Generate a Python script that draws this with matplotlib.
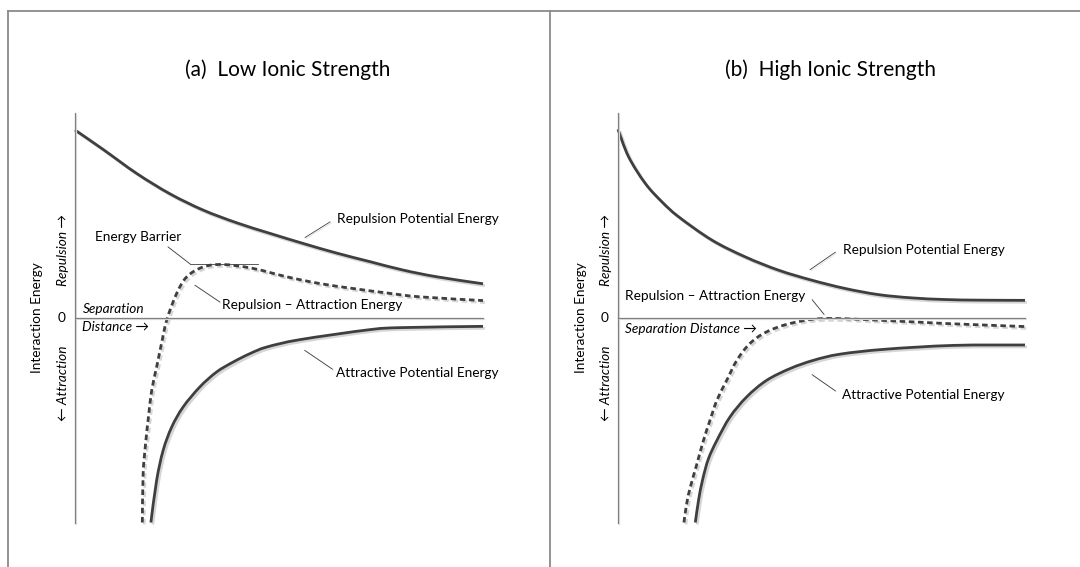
import matplotlib.pyplot as plt
import matplotlib.patheffects as pe
from matplotlib.lines import Line2D
from matplotlib.path import Path
from matplotlib.patches import PathPatch

# ---- data (x: separation distance 0..10, y: energy -10..10) ----
titles = ["(a)  Low Ionic Strength", "(b)  High Ionic Strength"]

# panel (a) low ionic strength
rep_a_x = [0.00, 0.69, 1.51, 2.33, 3.14, 3.96, 4.78, 5.59, 6.41, 7.23, 8.04, 8.87, 10.0]
rep_a_y = [9.17, 8.22, 7.05, 6.05, 5.26, 4.64, 4.12, 3.63, 3.16, 2.74, 2.33, 2.00, 1.66]

net_a_x = [1.65, 1.67, 1.73, 1.80, 1.88, 2.00, 2.12, 2.25, 2.49, 2.74, 3.14, 3.63,
           4.36, 5.19, 6.00, 6.81, 7.64, 8.46, 10.0]
net_a_y = [-10.0, -7.62, -6.15, -4.85, -3.55, -2.41, -1.26, -0.10, 1.18, 2.00, 2.48, 2.60,
           2.41, 2.00, 1.67, 1.43, 1.21, 1.02, 0.84]

att_a_x = [1.86, 2.00, 2.16, 2.37, 2.65, 3.06, 3.47, 3.88, 4.29, 4.70, 5.51, 7.23, 8.04, 10.0]
att_a_y = [-10.0, -7.95, -6.48, -5.34, -4.36, -3.38, -2.65, -2.16, -1.75, -1.43, -1.07,
           -0.58, -0.48, -0.42]

# panel (b) high ionic strength
rep_b_x = [0.00, 0.26, 0.67, 1.08, 1.49, 2.31, 3.13, 3.95, 4.77, 5.58, 6.40, 7.22, 8.04,
           8.86, 10.0]
rep_b_y = [9.20, 7.86, 6.56, 5.66, 4.93, 3.79, 2.97, 2.32, 1.83, 1.43, 1.13, 0.97, 0.89,
           0.86, 0.85]

net_b_x = [1.62, 1.69, 1.78, 1.93, 2.10, 2.26, 2.43, 2.67, 2.92, 3.24, 3.65, 4.23, 5.04,
           6.41, 8.04, 10.0]
net_b_y = [-10.0, -9.05, -8.25, -7.20, -5.99, -5.01, -4.03, -3.06, -2.08, -1.26, -0.69,
           -0.28, -0.04, -0.12, -0.28, -0.43]

att_b_x = [1.90, 1.98, 2.08, 2.22, 2.43, 2.75, 3.16, 3.65, 4.23, 4.80, 5.45, 6.55, 8.24, 10.0]
att_b_y = [-10.0, -8.9, -7.9, -6.9, -5.99, -4.85, -3.87, -3.06, -2.48, -2.08, -1.78, -1.54,
           -1.35, -1.33]

curves = [
    [(rep_a_x, rep_a_y, '-'), (net_a_x, net_a_y, '--'), (att_a_x, att_a_y, '-')],
    [(rep_b_x, rep_b_y, '-'), (net_b_x, net_b_y, '--'), (att_b_x, att_b_y, '-')],
]

plt.rcParams['font.family'] = ['Lato', 'DejaVu Sans']

DARK = '#3f3f3f'
AXIS = '#7f7f7f'
SHADOW = '#d6d6d6'
shadow_fx = [pe.SimpleLineShadow(offset=(1.4, -1.4), shadow_color=SHADOW, alpha=1), pe.Normal()]
thin_fx = [pe.SimpleLineShadow(offset=(0.8, -0.8), shadow_color='#e2e2e2', alpha=1), pe.Normal()]

fig = plt.figure(figsize=(10.8, 5.67), dpi=100)
W, H = 1080, 567

# axes boxes in pixels: (left, right)
axes_px = [(75, 483), (618, 1025)]
top_px, bot_px = 113, 522.5

label_size = 9.8


def smooth_path(xs, ys):
    # cubic bezier through the read points (catmull-rom handles), drawing only
    pts = list(zip(xs, ys))
    verts = [pts[0]]
    codes = [Path.MOVETO]
    n = len(pts)
    for k in range(n - 1):
        p0 = pts[k - 1] if k > 0 else pts[k]
        p1 = pts[k]
        p2 = pts[k + 1]
        p3 = pts[k + 2] if k + 2 < n else pts[k + 1]
        c1 = (p1[0] + (p2[0] - p0[0]) / 6, p1[1] + (p2[1] - p0[1]) / 6)
        c2 = (p2[0] - (p3[0] - p1[0]) / 6, p2[1] - (p3[1] - p1[1]) / 6)
        verts += [c1, c2, p2]
        codes += [Path.CURVE4] * 3
    return Path(verts, codes)


def leader(ax, p0, p1):
    ax.plot([p0[0], p1[0]], [p0[1], p1[1]], color=DARK, lw=0.6, clip_on=False,
            path_effects=thin_fx)


for i, (l, r) in enumerate(axes_px):
    ax = fig.add_axes([l / W, 1 - bot_px / H, (r - l) / W, (bot_px - top_px) / H])
    ax.set_xlim(0, 10)
    ax.set_ylim(-10, 10)
    ax.axis('off')

    # axis lines
    ax.plot([0, 0], [-10, 10], color=AXIS, lw=0.9, path_effects=thin_fx, clip_on=False)
    ax.plot([0, 10], [0, 0], color=AXIS, lw=0.9, path_effects=thin_fx, clip_on=False)

    for xs, ys, ls in curves[i]:
        patch = PathPatch(smooth_path(xs, ys), fill=False, edgecolor=DARK, lw=2.0,
                          capstyle='butt', clip_on=False, path_effects=shadow_fx)
        if ls == '--':
            patch.set_linestyle((0, (2.0, 1.3)))
        ax.add_patch(patch)

    ax.text(5.21, 12.1, titles[i], ha='center', va='center', fontsize=15, color='black')
    ax.text(-0.92, 0.03, "Interaction Energy", rotation=90, ha='center', va='center',
            fontsize=label_size)
    ax.text(-0.30, 3.33, "Repulsion \u2192", rotation=90, ha='center', va='center',
            fontsize=label_size, style='italic')
    ax.text(-0.30, -3.22, "\u2190 Attraction", rotation=90, ha='center', va='center',
            fontsize=label_size, style='italic')
    ax.text(-0.34, 0, "0", ha='center', va='center', fontsize=label_size)

    if i == 0:
        ax.text(6.41, 4.82, "Repulsion Potential Energy", ha='left', va='center', fontsize=label_size)
        leader(ax, (5.64, 3.92), (6.25, 4.68))
        ax.text(0.49, 3.96, "Energy Barrier", ha='left', va='center', fontsize=label_size)
        leader(ax, (2.28, 3.46), (2.82, 2.63))
        ax.plot([2.82, 4.49], [2.63, 2.63], color=DARK, lw=0.6)
        ax.text(3.60, 0.61, "Repulsion \u2013 Attraction Energy", ha='left', va='center',
                fontsize=label_size)
        leader(ax, (2.94, 1.59), (3.55, 0.77))
        ax.text(0.20, 0.42, "Separation", ha='left', va='center', fontsize=label_size,
                style='italic')
        ax.text(0.17, -0.46, "Distance \u2192", ha='left', va='center', fontsize=label_size,
                style='italic')
        ax.text(6.39, -2.69, "Attractive Potential Energy", ha='left', va='center',
                fontsize=label_size)
        leader(ax, (5.63, -1.59), (6.31, -2.51))
    else:
        ax.text(5.53, 3.29, "Repulsion Potential Energy", ha='left', va='center', fontsize=label_size)
        leader(ax, (4.72, 2.35), (5.34, 3.20))
        ax.text(0.18, 1.06, "Repulsion \u2013 Attraction Energy", ha='left', va='center',
                fontsize=label_size)
        leader(ax, (4.77, 0.88), (5.06, 0.17))
        ax.text(0.16, -0.53, "Separation Distance \u2192", ha='left', va='center',
                fontsize=label_size, style='italic')
        ax.text(5.51, -3.79, "Attractive Potential Energy", ha='left', va='center',
                fontsize=label_size)
        leader(ax, (4.77, -2.78), (5.34, -3.57))

# panel borders
border = dict(color='#8a8a8a', lw=1.3, transform=fig.transFigure)
fig.add_artist(Line2D([8 / W, 1], [1 - 10.5 / H] * 2, **border))
fig.add_artist(Line2D([8 / W] * 2, [0, 1 - 10.5 / H], **border))
fig.add_artist(Line2D([550 / W] * 2, [0, 1 - 10.5 / H], **border))

fig.savefig("out.png", dpi=100, facecolor='white')
